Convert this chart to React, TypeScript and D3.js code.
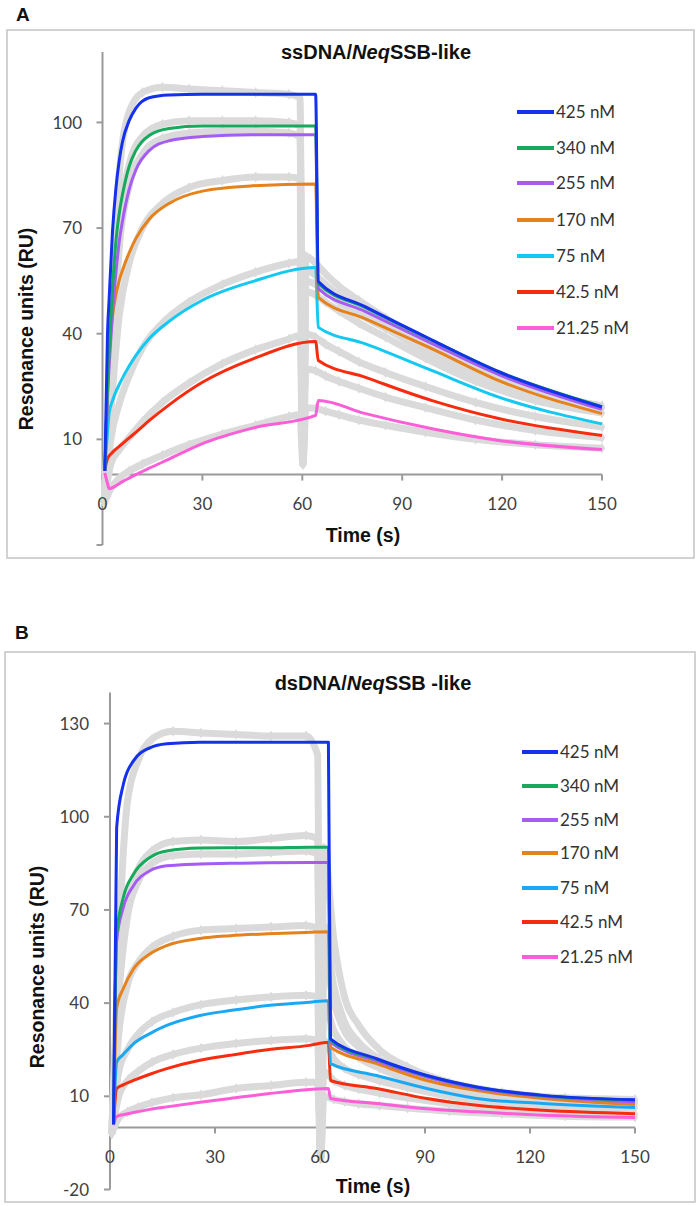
import React from "react";
import * as d3 from "d3";

// ---------- DATA ----------
const CONCENTRATIONS = ["425 nM", "340 nM", "255 nM", "170 nM", "75 nM", "42.5 nM", "21.25 nM"];
const X_TICKS = [0, 30, 60, 90, 120, 150];

// Panel A – ssDNA: fitted curves (time in s, response in RU)
const A_FIT_T = [0.7, 1.5, 2, 3, 4, 5, 6, 8, 10, 14, 20, 30, 45, 64, 64.8, 79, 99, 119, 150];
const A_FIT_425 = [1, 40, 50, 69, 81, 89, 94.5, 100.5, 104, 107, 107.8, 108, 108, 108, 54.8, 47.6, 38.2, 29.2, 19.2];
const A_FIT_340 = [1, 25, 35, 53, 66, 74, 79.5, 87.5, 92, 96.3, 98.3, 99, 99, 99, 54.3, 47.4, 38.1, 29.2, 19.3];
const A_FIT_255 = [1, 22, 31, 46, 57, 66, 72, 81, 86.5, 92, 94.8, 96, 96.5, 96.5, 52.8, 46.3, 37.2, 28.4, 18.5];
const A_FIT_170 = [1, 24, 34, 45, 51, 55, 58, 63, 67, 72.5, 77, 80.5, 82, 82.5, 50.3, 44.2, 35.7, 26.7, 17.3];
const A_FIT_75 = [2, 12, 17.5, 21, 23.5, 25.5, 27.4, 30.8, 33.8, 38.6, 43.5, 49.5, 54.8, 58.8, 41.8, 37.1, 29.5, 22, 14.4];
const A_FIT_42 = [1.5, 4.5, 5.3, 6.3, 7.2, 8, 8.8, 10.4, 12, 15.3, 19.8, 26.2, 32.8, 37.8, 32.4, 27.6, 21, 15.9, 11.1];
const A_FIT_21 = [0.5, -2.5, -4, -3.7, -3.2, -2.6, -2, -1, 0, 1.8, 4.4, 8.8, 13.2, 16.8, 21, 17.3, 13, 9.7, 7.1];

// Panel A – measured sensorgrams (grey)
const G_T = [0.5, 2.5, 5, 8, 12, 18, 26, 36, 46, 56, 59.3, 60.2, 61.1, 64, 67, 71, 77, 85, 97, 112, 130, 150];
const A_OBS_425 = [-8, 30, 85, 103, 108.5, 110, 109.5, 109, 108.5, 108, 107, 3, 62, 60, 57, 53.5, 49.5, 44.5, 37.5, 30, 23.5, 19.5];
const A_OBS_340 = [-8, 25, 70, 88, 96, 99.5, 100.5, 100.5, 100.5, 100, 99, 3, 58, 56.5, 54, 51, 47.5, 43, 36.5, 29.5, 23.5, 19.5];
const A_OBS_255 = [-8, 22, 64, 82, 91, 95.5, 97, 97.5, 97.5, 97, 96, 3, 55, 54, 52, 49, 45.5, 41.5, 35, 28.5, 22.5, 18.8];
const A_OBS_170 = [-8, 18, 45, 60, 70, 77, 81.5, 83.5, 84.5, 84.5, 84, 3, 52, 51, 49, 46.5, 43, 39, 33, 26.5, 21, 17.5];
const A_OBS_75 = [-8, 10, 20, 28, 36, 43, 49, 54, 57.5, 60, 60.5, 3, 40, 39, 37, 35, 32, 29, 25, 20.5, 16.5, 13.5];
const A_OBS_42 = [-8, 3, 7, 10.5, 15, 20.5, 26, 31.5, 35.5, 38.5, 39.5, 3, 30, 29.5, 28, 26.5, 24.5, 22, 19, 15.5, 12.5, 10.5];
const A_OBS_21 = [-8, -4, -1, 1, 3, 5.5, 8.5, 11.5, 14, 16.5, 17, 3, 19, 18.8, 18, 17, 15.5, 14, 12, 10, 8.5, 7.5];

// Panel B – dsDNA: fitted curves
const B_FIT_T = [1, 1.9, 3.8, 6.7, 11.4, 16.2, 25.7, 34.3, 45, 57, 62.4, 63, 76.2, 90.5, 104.8, 123.8, 150];
const B_FIT_425 = [1, 96.5, 110.4, 118, 122.2, 123.5, 124, 124, 124, 124, 124, 28.5, 22.1, 16.7, 13, 10.3, 8.9];
const B_FIT_340 = [1, 62, 74, 81.5, 86.9, 89, 89.9, 90, 90, 90.2, 90.2, 28, 21.9, 16.6, 12.9, 10.2, 8.8];
const B_FIT_255 = [1, 60, 70.8, 77.8, 82.6, 84.2, 84.8, 85, 85.2, 85.3, 85.3, 27.4, 21.4, 16.2, 12.6, 10, 8.2];
const B_FIT_170 = [1, 38.5, 44.7, 51, 55.8, 58.5, 60.8, 61.7, 62.3, 62.8, 63, 25.8, 20.5, 15.1, 11.9, 9.3, 7.4];
const B_FIT_75 = [1, 21, 23.5, 26.9, 30.2, 32.8, 36, 37.6, 39.2, 40.3, 40.8, 20.5, 16.7, 12.5, 9.3, 7.7, 6.4];
const B_FIT_42 = [1, 12.5, 13.7, 15.1, 17.1, 18.9, 21.6, 23.2, 25, 26.4, 27.4, 15.1, 12.5, 9.3, 7.1, 5.5, 4.4];
const B_FIT_21 = [0.7, 3.5, 4.1, 4.8, 5.8, 6.6, 8.1, 9.3, 10.8, 12.2, 12.5, 9.3, 7.7, 6, 5, 3.9, 3.2];

// Panel B – measured sensorgrams (grey)
const B_OBS_425 = [-2, 60, 105, 118, 125, 127.5, 127, 126.5, 126, 126, 120, -10, 90, 60, 42, 33, 25, 19.5, 14.5, 11.3, 9.5, 9];
const B_OBS_340 = [-2, 45, 72, 83, 89, 92, 92.5, 92, 93, 94, 93, -10, 65, 45, 34, 27.5, 22, 17.5, 13.5, 10.8, 9.2, 8.8];
const B_OBS_255 = [-2, 42, 68, 79, 85, 87.5, 88, 88, 88.5, 89, 88, -10, 55, 40, 31, 26, 21, 16.8, 13, 10.4, 8.8, 8.3];
const B_OBS_170 = [-2, 30, 46, 53, 58, 61.5, 63.5, 64, 64.5, 65, 64, -10, 40, 31, 26, 22.5, 19, 15.5, 12, 9.7, 8.2, 7.6];
const B_OBS_75 = [-2, 18, 25, 30, 34, 37, 39.5, 41, 42, 42.5, 42, -10, 28, 22, 19, 17, 15, 12.8, 10, 8, 6.8, 6.3];
const B_OBS_42 = [-2, 10, 15, 18, 21, 23.5, 25.5, 27, 28, 28.5, 28, -10, 18, 15, 13.5, 12.3, 11, 9.5, 7.6, 6, 4.8, 4.3];
const B_OBS_21 = [-2, 3, 5, 6.5, 8, 9.5, 10.5, 12.5, 13.5, 14.5, 14.5, -10, 10, 9, 8.3, 7.6, 7, 6.2, 5.2, 4.4, 3.6, 3.3];

const A_Y_TICKS = [-20, 10, 40, 70, 100];
const A_Y_LABELS = [10, 40, 70, 100];
const B_Y_TICKS = [-20, 10, 40, 70, 100, 130];
const B_Y_LABELS = [-20, 10, 40, 70, 100, 130];

// ---------- STYLE ----------
const COLORS_A = ["#1431ee", "#17a95c", "#a45cf2", "#e6821b", "#15c8f2", "#f72b0e", "#fb5ed6"];
const COLORS_B = ["#1431ee", "#17a95c", "#a45cf2", "#e6821b", "#1aa8f5", "#f72b0e", "#fb5ed6"];
const GREY = "#dadada";
const AXIS = "#9a9a9a";
const FRAME = "#c4c4c4";
const BOLD_FONT = "'Liberation Sans', Arial, Helvetica, sans-serif";
const TICK_FONT = "Lato, 'Open Sans', sans-serif";

type PanelCfg = {
  letter: string;
  letterPos: [number, number];
  frame: [number, number, number, number];
  titleMain: string;
  titleTail: string;
  titlePos: [number, number];
  xRange: [number, number];
  yDomain: [number, number];
  yRange: [number, number];
  yTicks: number[];
  yLabels: number[];
  yLabelEnd: number;
  xTickLabelY: number;
  xTitlePos: [number, number];
  yTitlePos: [number, number];
  fitT: number[];
  fits: number[][];
  obs: number[][];
  colors: string[];
  legendX: [number, number];
  legendY: number[];
};

const panels: PanelCfg[] = [
  {
    letter: "A",
    letterPos: [16, 21],
    frame: [7, 30, 687, 528],
    titleMain: "ssDNA/",
    titleTail: "SSB-like",
    titlePos: [376, 59],
    xRange: [102.5, 602],
    yDomain: [-20, 120],
    yRange: [545, 52],
    yTicks: A_Y_TICKS,
    yLabels: A_Y_LABELS,
    yLabelEnd: 82,
    xTickLabelY: 504,
    xTitlePos: [363, 542],
    yTitlePos: [33, 329],
    fitT: A_FIT_T,
    fits: [A_FIT_425, A_FIT_340, A_FIT_255, A_FIT_170, A_FIT_75, A_FIT_42, A_FIT_21],
    obs: [A_OBS_425, A_OBS_340, A_OBS_255, A_OBS_170, A_OBS_75, A_OBS_42, A_OBS_21],
    colors: COLORS_A,
    legendX: [517, 554],
    legendY: [112, 148, 183, 220, 256, 292, 328],
  },
  {
    letter: "B",
    letterPos: [15, 639],
    frame: [5, 652, 690, 550],
    titleMain: "dsDNA/",
    titleTail: "SSB -like",
    titlePos: [373, 690],
    xRange: [110, 635],
    yDomain: [-20, 140],
    yRange: [1189.5, 692.5],
    yTicks: B_Y_TICKS,
    yLabels: B_Y_LABELS,
    yLabelEnd: 89,
    xTickLabelY: 1157,
    xTitlePos: [373, 1193],
    yTitlePos: [44, 967],
    fitT: B_FIT_T,
    fits: [B_FIT_425, B_FIT_340, B_FIT_255, B_FIT_170, B_FIT_75, B_FIT_42, B_FIT_21],
    obs: [B_OBS_425, B_OBS_340, B_OBS_255, B_OBS_170, B_OBS_75, B_OBS_42, B_OBS_21],
    colors: COLORS_B,
    legendX: [522, 558],
    legendY: [752, 786, 820, 853, 888, 922, 957],
  },
];

function Panel({ cfg }: { cfg: PanelCfg }) {
  const x = d3.scaleLinear().domain([0, 150]).range(cfg.xRange);
  const y = d3.scaleLinear().domain(cfg.yDomain).range(cfg.yRange);
  const line = d3
    .line<[number, number]>()
    .x((d) => x(d[0]))
    .y((d) => y(d[1]))
    .curve(d3.curveMonotoneX);
  const diamond = d3.symbol().type(d3.symbolDiamond).size(34)();
  const y0 = y(0);
  const [fx, fy, fw, fh] = cfg.frame;

  return (
    <g>
      <rect x={fx} y={fy} width={fw} height={fh} fill="#fff" stroke={FRAME} strokeWidth={1.5} />
      <text x={cfg.letterPos[0]} y={cfg.letterPos[1]} fontFamily={BOLD_FONT} fontWeight="bold" fontSize={19} fill="#111">
        {cfg.letter}
      </text>

      {/* axes */}
      <line x1={x(0)} x2={x(0)} y1={y(cfg.yDomain[0])} y2={y(cfg.yDomain[1])} stroke={AXIS} strokeWidth={2} />
      <line x1={x(0)} x2={x(150)} y1={y0} y2={y0} stroke={AXIS} strokeWidth={2} />
      {cfg.yTicks.map((v) => (
        <line key={"yt" + v} x1={x(0) - 6} x2={x(0)} y1={y(v)} y2={y(v)} stroke={AXIS} strokeWidth={2} />
      ))}
      {X_TICKS.map((v) => (
        <line key={"xt" + v} x1={x(v)} x2={x(v)} y1={y0} y2={y0 + 6} stroke={AXIS} strokeWidth={2} />
      ))}

      {/* measured data (grey) */}
      {cfg.obs.map((vals, i) => {
        const pts = G_T.map((t, j) => [t, vals[j]] as [number, number]);
        return (
          <g key={"obs" + i}>
            <path d={line(pts) || ""} fill="none" stroke={GREY} strokeWidth={7} strokeLinejoin="round" />
            {pts.map((p, j) => (
              <path key={j} d={diamond || ""} transform={`translate(${x(p[0])},${y(p[1])})`} fill={GREY} />
            ))}
          </g>
        );
      })}

      {/* tick labels */}
      {cfg.yLabels.map((v) => (
        <text
          key={"yl" + v}
          x={cfg.yLabelEnd}
          y={y(v)}
          dy="0.36em"
          textAnchor="end"
          fontFamily={TICK_FONT}
          fontSize={17}
          fill="#404040"
        >
          {v}
        </text>
      ))}
      {X_TICKS.map((v) => (
        <text
          key={"xl" + v}
          x={x(v)}
          y={cfg.xTickLabelY}
          dy="0.36em"
          textAnchor="middle"
          fontFamily={TICK_FONT}
          fontSize={17}
          fill="#404040"
        >
          {v}
        </text>
      ))}

      {/* fitted curves */}
      {cfg.fits
        .map((vals, i) => ({ vals, i }))
        .reverse()
        .map(({ vals, i }) => {
          const pts = cfg.fitT.map((t, j) => [t, vals[j]] as [number, number]);
          return (
            <path
              key={"fit" + i}
              d={line(pts) || ""}
              fill="none"
              stroke={cfg.colors[i]}
              strokeWidth={3}
              strokeLinejoin="round"
            />
          );
        })}

      {/* titles */}
      <text
        x={cfg.titlePos[0]}
        y={cfg.titlePos[1]}
        textAnchor="middle"
        fontFamily={BOLD_FONT}
        fontWeight="bold"
        fontSize={20}
        fill="#111"
      >
        <tspan>{cfg.titleMain}</tspan>
        <tspan fontStyle="italic">Neq</tspan>
        <tspan>{cfg.titleTail}</tspan>
      </text>
      <text
        x={cfg.xTitlePos[0]}
        y={cfg.xTitlePos[1]}
        textAnchor="middle"
        fontFamily={BOLD_FONT}
        fontWeight="bold"
        fontSize={19.5}
        fill="#111"
      >
        Time (s)
      </text>
      <text
        transform={`translate(${cfg.yTitlePos[0]},${cfg.yTitlePos[1]}) rotate(-90)`}
        textAnchor="middle"
        fontFamily={BOLD_FONT}
        fontWeight="bold"
        fontSize={19.5}
        fill="#111"
      >
        Resonance units (RU)
      </text>

      {/* legend */}
      {CONCENTRATIONS.map((c, i) => (
        <g key={"lg" + i}>
          <line
            x1={cfg.legendX[0]}
            x2={cfg.legendX[1]}
            y1={cfg.legendY[i]}
            y2={cfg.legendY[i]}
            stroke={cfg.colors[i]}
            strokeWidth={4}
          />
          <text
            x={cfg.legendX[1] + 2}
            y={cfg.legendY[i]}
            dy="0.36em"
            fontFamily={TICK_FONT}
            fontSize={17}
            fill="#333"
          >
            {c}
          </text>
        </g>
      ))}
    </g>
  );
}

export default function App() {
  return (
    <svg
      width={700}
      height={1206}
      viewBox="0 0 700 1206"
      style={{ position: "absolute", left: 0, top: 0, display: "block", background: "#fff" }}
    >
      <rect width={700} height={1206} fill="#fff" />
      {panels.map((p) => (
        <Panel key={p.letter} cfg={p} />
      ))}
    </svg>
  );
}
